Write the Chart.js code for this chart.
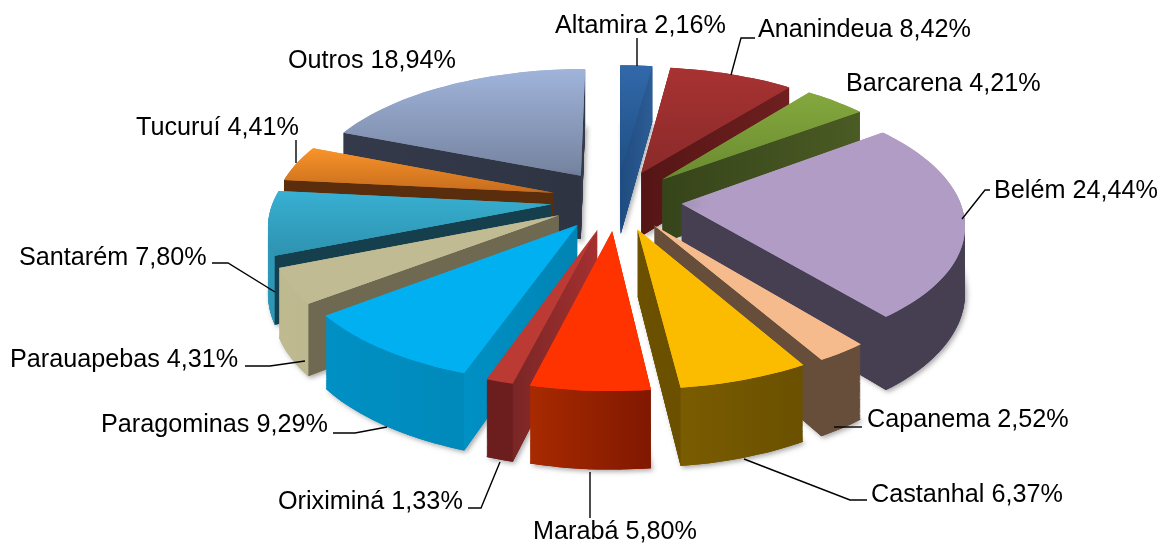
<!DOCTYPE html>
<html><head><meta charset="utf-8">
<style>html,body{margin:0;padding:0;background:#fff}canvas{display:block}</style>
<script src="https://cdn.jsdelivr.net/npm/chart.js@4/dist/chart.umd.min.js"></script>
</head><body><canvas id="c" width="1159" height="543"></canvas>
<script>
const categories = ['Altamira','Ananindeua','Barcarena','Belém','Capanema','Castanhal','Marabá','Oriximiná','Paragominas','Parauapebas','Santarém','Tucuruí','Outros'];
const shares = [2.16,8.42,4.21,24.44,2.52,6.37,5.80,1.33,9.29,4.31,7.80,4.41,18.94];

// style: [top start, top end], [rim start, rim end], [radial start, radial end]
const topColors = [['#3269aa','#1f4f85'],['#a83232','#8a2a2a'],['#84a83e','#6a8b30'],['#b09cc4','#b09cc4'],['#f6bb8c','#f6bb8c'],['#fbbc00','#fbbc00'],['#ff3300','#ff3300'],['#bb3a34','#bb3a34'],['#00b0f0','#00b0f0'],['#c0bb92','#c0bb92'],['#38b0d2','#2e92b0'],['#f99429','#c66c1e'],['#a0b4da','#74829e']];
const rimColors = [['#1f4f85','#1f4f85'],['#6a1c1c','#6a1c1c'],['#4a5a22','#3a4818'],['#463f52','#463f52'],['#664e3a','#664e3a'],['#806000','#6a5000'],['#a82a00','#801800'],['#6c1d1d','#6c1d1d'],['#0090c4','#0084b4'],['#bfba90','#a8a37e'],['#2c97b6','#1f7d99'],['#5a2e0c','#5a2e0c'],['#343a4a','#343a4a']];
const sideColors = [['#1f4c80','#2d5d96'],['#551515','#6f1f1f'],['#36441a','#4b5b24'],['#463f52','#463f52'],['#664e3a','#664e3a'],['#6b5000','#6b5000'],['#a82a00','#801800'],['#7a2626','#a53030'],['#0090c4','#0084b4'],['#6e6950','#6e6950'],['#163f4e','#163f4e'],['#5a2e0c','#5a2e0c'],['#343a4a','#2e3442']];

// style: perspective model of the pie plane
const view = {cx:616.5, cy:200, sx:278, sy:128, k:0.14, explode:0.235, depth:65, wedge:6*Math.PI/180, steps:80};

// annotations
const labelAnchors = [[555,26],[758,30],[846,84],[994,191],[867,420],[871,495],[533,532],[278,502],[101,425],[10,360],[19,258],[136,128],[288,61]];
const leaders = [[[637,66],[637,38]],[[731,75],[741,38],[755,38]],null,[[962,219],[985,190],[990,190]],[[834,427],[862,427]],[[744,459],[850,500],[867,500]],[[590,472],[590,518]],[[500,462],[481,508],[468,508]],[[387,427],[355,433],[333,433]],[[305,361],[270,366],[245,366]],[[275,292],[228,263],[212,263]],[[296,163],[296,140]],null];

function project(u,v,d){const w=1+view.k*v;return [view.cx+view.sx*u/w, view.cy-view.sy*v/w+d*view.depth/w];}
function planePoint(arc,r,theta){
  const m=(arc.startAngle0+arc.endAngle0)/2;
  return [r*Math.cos(theta)+view.explode*Math.cos(m), -r*Math.sin(theta)-view.explode*Math.sin(m)];
}
function screenPoint(arc,r,theta,d){const p=planePoint(arc,r,theta);return project(p[0],p[1],d);}
function wedgeMatrix(arc,a0,a1,d){
  const R=arc.outerRadius,x=arc.x,y=arc.y;
  const A=screenPoint(arc,0,a0,d),B=screenPoint(arc,1,a0,d),C=screenPoint(arc,1,a1,d);
  const bx=R*Math.cos(a0),by=R*Math.sin(a0),cx=R*Math.cos(a1),cy=R*Math.sin(a1);
  const det=bx*cy-cx*by;
  const a=((B[0]-A[0])*cy-(C[0]-A[0])*by)/det, c=((C[0]-A[0])*bx-(B[0]-A[0])*cx)/det;
  const b=((B[1]-A[1])*cy-(C[1]-A[1])*by)/det, e=((C[1]-A[1])*bx-(B[1]-A[1])*cx)/det;
  return {a,b,c,d:e,e:A[0]-a*x-c*y,f:A[1]-b*x-e*y};
}
function mix(p,q,t){const o={};for(const k in p)o[k]=p[k]*(1-t)+q[k]*t;return o;}
function localGradient(ctx,M,S0,S1,cols){
  const dx=S1[0]-S0[0],dy=S1[1]-S0[1],n=dx*dx+dy*dy||1;
  const gx=(M.a*dx+M.b*dy)/n,gy=(M.c*dx+M.d*dy)/n;
  const h=((M.e-S0[0])*dx+(M.f-S0[1])*dy)/n;
  const gg=gx*gx+gy*gy;
  const p0x=-h*gx/gg,p0y=-h*gy/gg;
  const g=ctx.createLinearGradient(p0x,p0y,p0x+gx/gg,p0y+gy/gg);
  g.addColorStop(0,cols[0]);g.addColorStop(1,cols[1]);
  return g;
}
function drawWedge(ctx,arc,M,a0,a1,fill){
  const o=arc.options;
  arc.options=Object.assign({},o,{backgroundColor:fill});
  arc.startAngle=a0;arc.endAngle=a1;arc.circumference=a1-a0;
  ctx.save();
  ctx.transform(M.a,M.b,M.c,M.d,M.e,M.f);
  arc.draw(ctx);
  ctx.restore();
  arc.options=o;
}
function bounds(arc){
  let xa=1e9,xb=-1e9,ya=1e9,yb=-1e9;
  const add=p=>{xa=Math.min(xa,p[0]);xb=Math.max(xb,p[0]);ya=Math.min(ya,p[1]);yb=Math.max(yb,p[1]);};
  add(screenPoint(arc,0,arc.startAngle0,0));
  const n=24;
  for(let i=0;i<=n;i++)add(screenPoint(arc,1,arc.startAngle0+(arc.endAngle0-arc.startAngle0)*i/n,0));
  return {xa,xb,ya,yb};
}
function splits(s,t,n,phase){
  const out=[],w=(t-s)/n;
  let a=s;
  if(phase){out.push([s,s+w/2]);a=s+w/2;}
  while(a<t-1e-6){const b=Math.min(a+w,t);out.push([a,b]);a=b;}
  return out;
}
function drawSlice(ctx,arc,i){
  const s=arc.startAngle0,t=arc.endAngle0,n=Math.max(1,Math.ceil((t-s)/view.wedge)),b=bounds(arc);
  const lap=0.006;
  const rimG=[[b.xa,0],[b.xb,0]],topG=[[0,b.ya],[0,b.yb+0.01]];
  const parts=splits(s,t,n,false);
  // soft shadow of the base only, before any wall is painted
  ctx.save();
  ctx.shadowColor='rgba(0,0,0,0.35)';ctx.shadowBlur=5;ctx.shadowOffsetX=2;ctx.shadowOffsetY=2;
  parts.forEach(([a0,a1])=>drawWedge(ctx,arc,wedgeMatrix(arc,a0,a1,1),a0,a1,rimColors[i][1]));
  ctx.restore();
  parts.forEach(([a0,a1],j)=>{
    const end=j<parts.length-1?a1+lap:a1;
    const Mb=wedgeMatrix(arc,a0,a1,1),Mt=wedgeMatrix(arc,a0,a1,0);
    for(let q=0;q<view.steps;q++){
      const M=mix(Mb,Mt,q/view.steps);
      drawWedge(ctx,arc,M,a0,end,localGradient(ctx,M,rimG[0],rimG[1],rimColors[i]));
    }
  });
  const A=screenPoint(arc,0,s,0),Ab=screenPoint(arc,0,s,1);
  [[s,t],[t,s]].forEach(([e,other])=>{
    const C=screenPoint(arc,1,e,0),Cb=screenPoint(arc,1,e,1),O=screenPoint(arc,1,other,0);
    const dx=C[0]-A[0];
    if(Math.abs(dx)<0.1*Math.abs(C[1]-A[1]))return;
    const yl=A[1]+(O[0]-A[0])*(C[1]-A[1])/dx;
    if(O[1]>=yl)return;
    const g=ctx.createLinearGradient(Math.min(A[0],C[0]),0,Math.max(A[0],C[0])+0.01,0);
    g.addColorStop(0,sideColors[i][0]);g.addColorStop(1,sideColors[i][1]);
    ctx.fillStyle=g;
    ctx.beginPath();ctx.moveTo(A[0],A[1]);ctx.lineTo(C[0],C[1]);ctx.lineTo(Cb[0],Cb[1]);ctx.lineTo(Ab[0],Ab[1]);ctx.closePath();ctx.fill();
  });
  // two staggered passes so that the seams of one are covered by the other
  [false,true].forEach(phase=>{
    if(phase&&n<2)return;
    splits(s,t,n,phase).forEach(([a0,a1])=>{
      const M=wedgeMatrix(arc,a0,a1,0);
      drawWedge(ctx,arc,M,a0,a1,localGradient(ctx,M,topG[0],topG[1],topColors[i]));
    });
  });
  arc.startAngle=s;arc.endAngle=t;arc.circumference=t-s;
}
const perspectivePie={
  id:'perspectivePie',
  beforeDatasetDraw(chart,args){
    const ctx=chart.ctx,arcs=args.meta.data;
    arcs.forEach(a=>{a.startAngle0=a.startAngle;a.endAngle0=a.endAngle;});
    const order=arcs.map((a,i)=>i).sort((p,q)=>{
      const d=a=>-Math.sin((a.startAngle0+a.endAngle0)/2);
      return d(arcs[q])-d(arcs[p]);
    });
    order.forEach(i=>drawSlice(ctx,arcs[i],i));
    return false;
  },
  afterDraw(chart){
    const ctx=chart.ctx;
    ctx.save();
    ctx.strokeStyle='#000';ctx.lineWidth=1.4;
    leaders.forEach(l=>{if(!l)return;ctx.beginPath();l.forEach((p,i)=>i?ctx.lineTo(p[0],p[1]):ctx.moveTo(p[0],p[1]));ctx.stroke();});
    ctx.fillStyle='#000';ctx.font='25.2px "Liberation Sans", Arial, sans-serif';ctx.textBaseline='middle';ctx.textAlign='left';
    categories.forEach((c,i)=>ctx.fillText(c+' '+shares[i].toFixed(2).replace('.',',')+'%',labelAnchors[i][0],labelAnchors[i][1]));
    ctx.restore();
  }
};
new Chart(document.getElementById('c'),{
  type:'pie',
  data:{labels:categories,datasets:[{data:shares,backgroundColor:topColors.map(c=>c[0]),borderWidth:0,offset:0}]},
  options:{responsive:false,animation:false,events:[],plugins:{legend:{display:false},tooltip:{enabled:false}},layout:{padding:0}},
  plugins:[perspectivePie]
});
</script></body></html>
